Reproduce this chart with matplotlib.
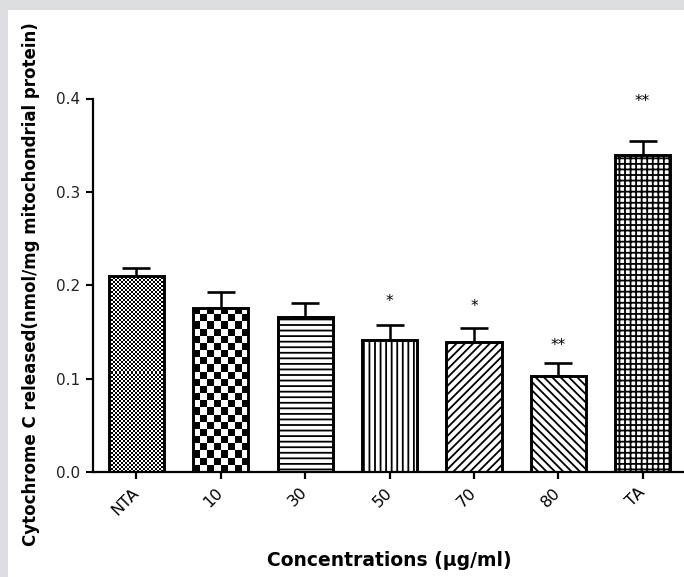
import matplotlib
matplotlib.use("Agg")
import matplotlib.pyplot as plt
from matplotlib.patches import Rectangle
import numpy as np

# data
categories = ["NTA", "10", "30", "50", "70", "80", "TA"]
values = [0.210, 0.176, 0.166, 0.141, 0.139, 0.103, 0.339]
errors = [0.009, 0.017, 0.015, 0.016, 0.015, 0.014, 0.015]
stars = ["", "", "", "*", "*", "**", "**"]
star_y = [0, 0, 0, 0.183, 0.177, 0.135, 0.397]

hatches = [None, None, "---", "|||", "////", "\\\\\\\\", "+++"]
checker_px = [2.0, 7.3, None, None, None, None, None]

plt.rcParams["hatch.linewidth"] = 1.3

fig = plt.figure(figsize=(6.84, 5.77), dpi=100, facecolor="#dcdde0")
# white panel inside the grey frame
fig.patches.append(Rectangle((8 / 684, 0), 1, 1 - 10 / 577, transform=fig.transFigure,
                             facecolor="white", edgecolor="none", zorder=-5))

ax = fig.add_axes([93 / 684, 1 - 472 / 577, 591 / 684, 373.5 / 577])
ax.set_facecolor("none")
x = np.arange(len(categories))
ax.set_xlim(-0.515, 6.49)
ax.set_ylim(0, 0.4)

bars = ax.bar(x, values, width=0.655, color="white", edgecolor="black", linewidth=0, zorder=2)
for b, h in zip(bars, hatches):
    if h:
        b.set_hatch(h)

# checkerboard fills
for b, cp in zip(bars, checker_px):
    if cp is None:
        continue
    x0, y0 = b.get_x(), b.get_y()
    w, h = b.get_width(), b.get_height()
    (px0, py0), (px1, py1) = ax.transData.transform([(x0, y0), (x0 + w, y0 + h)])
    nx = int(round((px1 - px0) / cp))
    ny = int(round((py1 - py0) / cp))
    grid = np.add.outer(np.arange(ny), np.arange(nx)) % 2
    im = ax.imshow(grid, cmap="gray", extent=(x0, x0 + w, y0, y0 + h), origin="lower",
                   interpolation="nearest", aspect="auto", zorder=2.2)
    im.set_clip_path(b)

ax.set_xlim(-0.515, 6.49)
ax.set_ylim(0, 0.4)

# outlines on top
ax.bar(x, values, width=0.655, facecolor="none", edgecolor="black", linewidth=2.1, zorder=3)

ax.errorbar(x, values, yerr=[np.zeros(len(values)), errors], fmt="none", ecolor="black",
            elinewidth=1.8, capsize=10, capthick=1.9, zorder=1.5)

for xi, s, sy in zip(x, stars, star_y):
    if s:
        ax.text(xi, sy, s, ha="center", va="center", fontsize=11, family="DejaVu Sans")

for side in ["top", "right"]:
    ax.spines[side].set_visible(False)
for side in ["left", "bottom"]:
    ax.spines[side].set_linewidth(1.6)

ax.set_yticks([0.0, 0.1, 0.2, 0.3, 0.4])
ax.set_yticklabels(["0.0", "0.1", "0.2", "0.3", "0.4"], fontsize=11, family="DejaVu Sans",
                   color="#222222")
ax.tick_params(axis="y", length=5, width=1.5, pad=4)
ax.set_xticks(x)
ax.set_xticklabels(categories, rotation=45, ha="right", va="center", rotation_mode="anchor",
                   fontsize=11.5, family="DejaVu Sans")
ax.tick_params(axis="x", length=5, width=1.6, pad=8)

fig.text(389 / 684, 1 - 561 / 577, "Concentrations (\u00b5g/ml)", ha="center", va="center",
         fontsize=13.5, fontweight="bold", family="DejaVu Sans")
fig.text(31 / 684, 1 - 284 / 577, "Cytochrome C released(nmol/mg mitochondrial protein)",
         ha="center", va="center", rotation=90, fontsize=12, fontweight="bold",
         family="DejaVu Sans")

fig.savefig("out.png", dpi=100, facecolor=fig.get_facecolor())
